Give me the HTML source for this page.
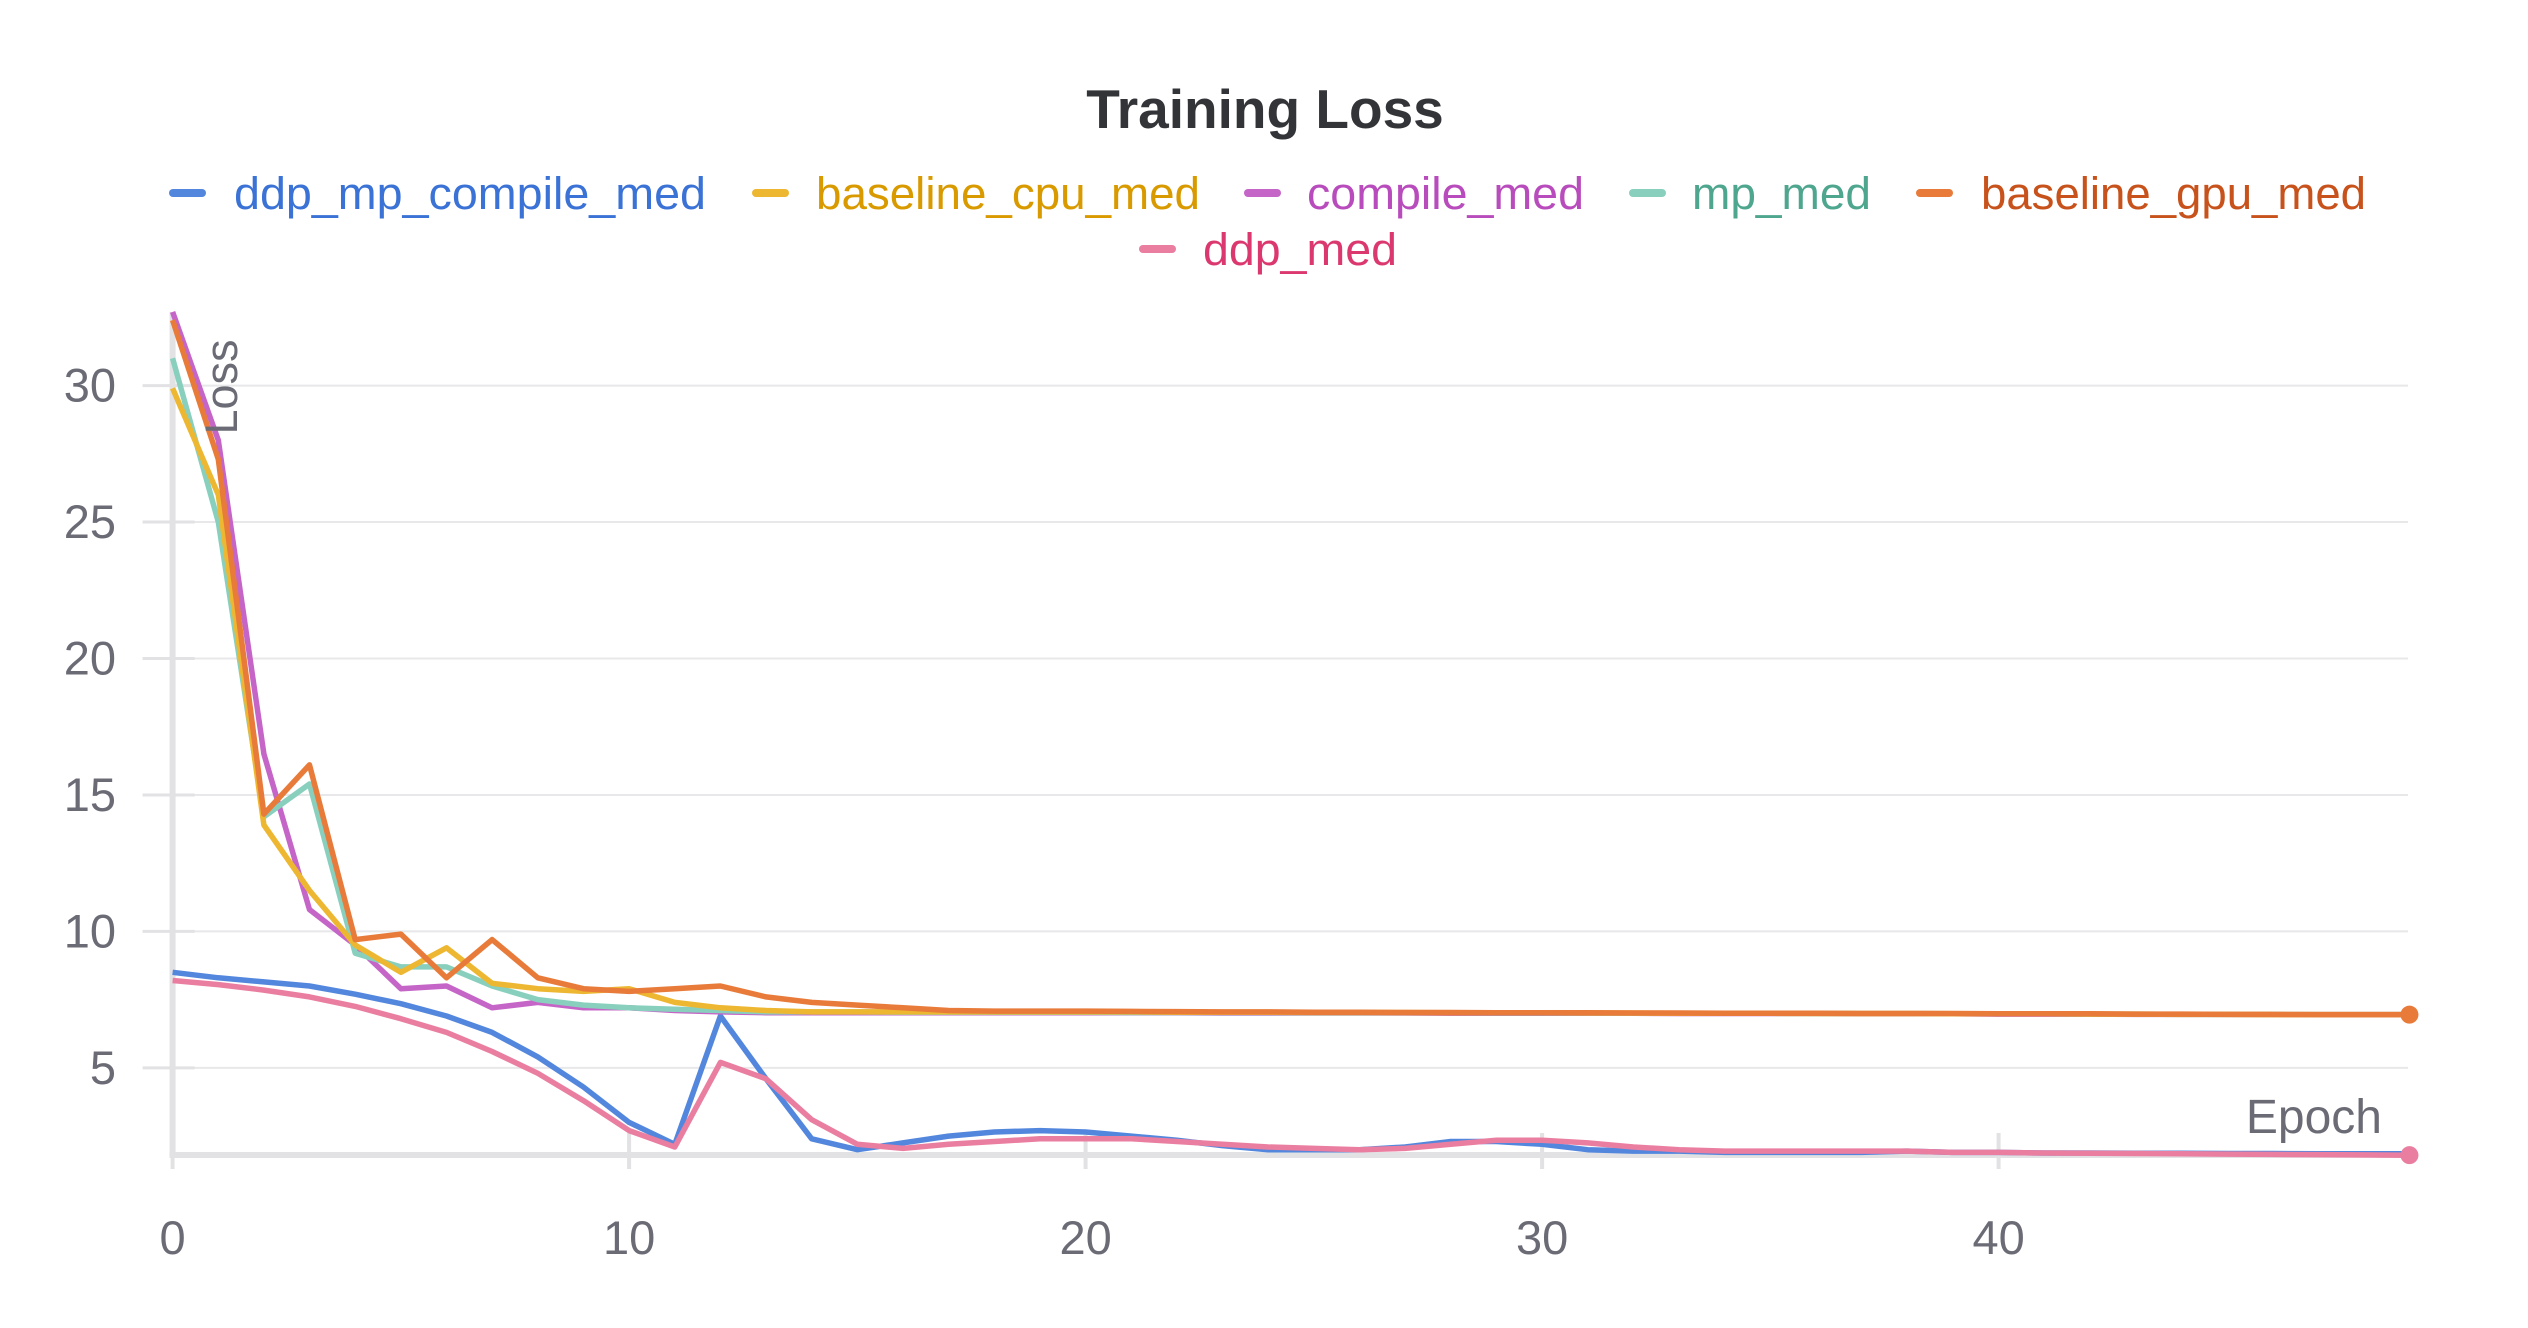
<!DOCTYPE html>
<html><head><meta charset="utf-8"><style>
html,body{margin:0;padding:0;background:#fff;}
svg{display:block;font-family:"Liberation Sans",sans-serif;}
</style></head><body>
<svg id="chart" width="2528" height="1328" viewBox="0 0 2528 1328" xmlns="http://www.w3.org/2000/svg">
<text x="1265" y="128" text-anchor="middle" font-size="55" font-weight="bold" fill="#333438">Training Loss</text>
<g id="legend"></g>
<g id="grid"></g>
<g id="axes"></g>
<g id="series"></g>
<text transform="translate(237,387) rotate(-90)" text-anchor="middle" font-size="45" fill="#6b6b76">Loss</text>
<text x="2382" y="1133" text-anchor="end" font-size="48" fill="#6b6b76">Epoch</text>
</svg>
<script>
const seriesNames = ["ddp_mp_compile_med","baseline_cpu_med","compile_med","mp_med","baseline_gpu_med","ddp_med"];
const xTicks = [0,10,20,30,40];
const yTicks = [5,10,15,20,25,30];
const gpuVals = [32.4,27.3,14.3,16.1,9.7,9.9,8.3,9.7,8.3,7.9,7.8,7.9,8.0,7.6,7.4,7.3,7.2,7.1,7.08,7.08,7.08,7.07,7.06,7.05,7.05,7.04,7.04,7.03,7.03,7.02,7.02,7.02,7.01,7.01,7.0,7.0,7.0,6.99,6.99,6.99,6.98,6.98,6.98,6.97,6.97,6.96,6.96,6.95,6.95,6.95];
const cpuVals = [29.9,26.0,13.9,11.5,9.5,8.5,9.4,8.1,7.9,7.8,7.9,7.4,7.2,7.1,7.05,7.05,7.05,7.05,7.05,7.05,7.05,7.05,7.04,7.04,7.04,7.03,7.03,7.03,7.02,7.02,7.02,7.01,7.01,7.0,7.0,7.0,6.99,6.99,6.99,6.98,6.98,6.98,6.97,6.97,6.96,6.96,6.95,6.95,6.95,6.95];
const compileVals = [32.7,28.0,16.5,10.8,9.5,7.9,8.0,7.2,7.4,7.2,7.2,7.1,7.05,7.02,7.02,7.02,7.02,7.02,7.02,7.02,7.02,7.02,7.02,7.01,7.01,7.01,7.01,7.01,7.0,7.0,7.0,7.0,7.0,6.99,6.99,6.99,6.99,6.98,6.98,6.98,6.97,6.97,6.97,6.96,6.96,6.96,6.95,6.95,6.95,6.95];
const mpVals = [31.0,25.0,14.2,15.4,9.2,8.7,8.7,8.0,7.5,7.3,7.2,7.15,7.1,7.05,7.05,7.05,7.04,7.04,7.04,7.04,7.04,7.03,7.03,7.03,7.03,7.02,7.02,7.02,7.02,7.01,7.01,7.01,7.0,7.0,7.0,7.0,6.99,6.99,6.99,6.98,6.98,6.98,6.97,6.97,6.96,6.96,6.96,6.95,6.95,6.95];
const ddpMpVals = [8.5,8.3,8.15,8.0,7.7,7.35,6.9,6.3,5.4,4.3,3.0,2.2,6.9,4.6,2.4,2.0,2.25,2.5,2.65,2.7,2.65,2.5,2.35,2.15,2.0,2.0,2.0,2.1,2.3,2.3,2.2,2.0,1.95,1.95,1.9,1.9,1.9,1.9,1.95,1.9,1.9,1.88,1.88,1.87,1.87,1.86,1.86,1.85,1.85,1.85];
const ddpVals = [8.2,8.05,7.85,7.6,7.25,6.8,6.3,5.6,4.8,3.8,2.7,2.1,5.2,4.6,3.1,2.2,2.05,2.2,2.3,2.4,2.4,2.4,2.3,2.2,2.1,2.05,2.0,2.05,2.2,2.35,2.35,2.25,2.1,2.0,1.95,1.95,1.95,1.95,1.95,1.9,1.9,1.88,1.87,1.86,1.85,1.84,1.83,1.82,1.81,1.8];

const lineColors = ["#5387dd","#edb732","#c565c7","#88d0bd","#e87b3a","#ea7ea0"];
const textColors = ["#3a72d6","#d99a00","#b94cbc","#4fa68e","#c8521b","#dc3870"];
const NS = "http://www.w3.org/2000/svg";
const X0 = 172.6, XS = 45.65, Y0 = 1204.3, YS = 27.29, XR = 2408, YB = 1155;
function xp(v){return X0 + v*XS;}
function yp(v){return Y0 - v*YS;}
function mk(tag, attrs, parent){const e=document.createElementNS(NS,tag);for(const k in attrs)e.setAttribute(k,attrs[k]);parent.appendChild(e);return e;}

const grid = document.getElementById('grid');
const axes = document.getElementById('axes');
yTicks.forEach(t=>{
  const l = mk('line',{x1:X0,x2:XR,y1:yp(t),y2:yp(t),stroke:'#e8e8ea','stroke-width':2},grid);
  
  
  const tk = mk('line',{x1:X0-30,x2:X0+22,y1:yp(t),y2:yp(t),stroke:'#e2e2e4','stroke-width':3},axes);
  
  
  const tx = mk('text',{x:116,y:yp(t)+16,'text-anchor':'end','font-size':47,fill:'#6b6b76'},axes);
  tx.textContent = t;
  
  
});
const ya = mk('line',{x1:X0,x2:X0,y1:312,y2:YB+3,stroke:'#e2e2e4','stroke-width':6},axes);


const xa = mk('line',{x1:X0-3,x2:XR,y1:YB,y2:YB,stroke:'#e2e2e4','stroke-width':6},axes);


xTicks.forEach(t=>{
  const tk = mk('line',{x1:xp(t),x2:xp(t),y1:YB-22,y2:YB+14,stroke:'#e2e2e4','stroke-width':4},axes);
  
  
  const tx = mk('text',{x:xp(t),y:1254,'text-anchor':'middle','font-size':47,fill:'#6b6b76'},axes);
  tx.textContent = t;
  
  
});

const allVals = [ddpMpVals,cpuVals,compileVals,mpVals,gpuVals,ddpVals];
const drawOrder = [0,5,2,3,1,4];
const series = document.getElementById('series');
drawOrder.forEach(i=>{
  const pts = allVals[i].map((v,k)=>xp(k).toFixed(1)+','+yp(v).toFixed(1)).join(' ');
  const p = mk('polyline',{points:pts,fill:'none',stroke:lineColors[i],'stroke-width':5.5,'stroke-linejoin':'round'},series);
  
  
});
[4,5].forEach(i=>{
  const arr = allVals[i], k = arr.length-1;
  const c = mk('circle',{cx:xp(k),cy:yp(arr[k]),r:9,fill:lineColors[i]},series);
  
  
});

const legend = document.getElementById('legend');
const legendPos = [[169,234,706],[752,816,1200],[1244,1307,1584],[1629,1692,1871],[1916,1981,2366],[1139,1203,1397]];
seriesNames.forEach((n,i)=>{
  const [sx,tx,te] = legendPos[i];
  const y = i<5 ? 193 : 249;
  const g = mk('g',{},legend);
  
  
  const s = mk('rect',{x:sx,y:y-4,width:37,height:8,rx:4,fill:lineColors[i]},g);
  
  
  const t = mk('text',{x:tx,y:y+16,'font-size':45,fill:textColors[i],textLength:te-tx,lengthAdjust:'spacingAndGlyphs'},g);
  t.textContent = n;
  
  
});
</script>
</body></html>
